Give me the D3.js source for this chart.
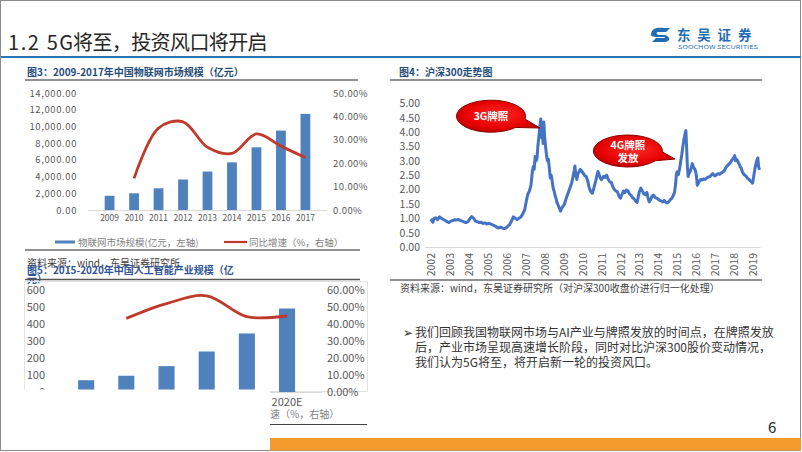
<!DOCTYPE html>
<html><head><meta charset="utf-8">
<script src="https://cdn.jsdelivr.net/npm/d3@7"></script>
<style>
body{margin:0;background:#fff;}
svg{display:block;}
text{font-family:"Noto Sans CJK SC",sans-serif;}
</style></head><body>
<svg id="c" width="802" height="452"></svg>
<script>
// ---------- DATA ----------
const iotYears = ["2009","2010","2011","2012","2013","2014","2015","2016","2017"];
const iotMarket = [1700, 2000, 2600, 3650, 4600, 5700, 7500, 9500, 11500];
const iotGrowth = [null, 13.5, 35, 37.7, 26.8, 24.2, 32.5, 27.3, 22.4];
const iotLeftTicks = [0,2000,4000,6000,8000,10000,12000,14000];
const iotRightTicks = [0,10,20,30,40,50];

const aiYears = ["2015","2016","2017","2018","2019E","2020E"];
const aiMarket = [69.3, 95.6, 152.1, 238.2, 344.3, 491.2];
const aiGrowth = [null, 43.3, 52, 56.6, 44.3, 44.7];
const aiLeftTicks = [0,100,200,300,400,500,600];
const aiRightTicks = [0,10,20,30,40,50,60];

const hsYears = d3.range(2002, 2020);
const hsTicks = [0,0.5,1,1.5,2,2.5,3,3.5,4,4.5,5];
const hs300 = [
[2002.00,0.88],[2002.05,0.95],[2002.10,0.86],[2002.15,0.98],[2002.25,1.02],[2002.35,0.95],[2002.45,1.05],[2002.55,1.00],[2002.65,0.96],[2002.75,0.92],[2002.85,0.88],[2002.95,0.85],
[2003.05,0.90],[2003.15,0.92],[2003.25,0.95],[2003.35,0.94],[2003.45,0.96],[2003.55,0.92],[2003.65,0.90],[2003.75,0.87],[2003.85,0.85],[2003.95,0.88],
[2004.05,0.98],[2004.15,1.06],[2004.25,1.00],[2004.35,0.90],[2004.45,0.88],[2004.55,0.85],[2004.65,0.86],[2004.75,0.82],[2004.85,0.84],[2004.95,0.80],
[2005.05,0.82],[2005.15,0.80],[2005.25,0.77],[2005.35,0.74],[2005.45,0.70],[2005.55,0.66],[2005.65,0.69],[2005.75,0.67],[2005.85,0.64],[2005.95,0.66],
[2006.05,0.72],[2006.15,0.78],[2006.25,0.90],[2006.35,1.05],[2006.45,1.00],[2006.55,0.96],[2006.65,1.00],[2006.75,1.05],[2006.85,1.15],[2006.95,1.30],
[2007.05,1.65],[2007.12,1.85],[2007.20,1.95],[2007.28,2.15],[2007.35,2.60],[2007.40,2.80],[2007.45,2.70],[2007.50,3.15],[2007.55,3.00],[2007.60,3.10],[2007.65,3.55],[2007.70,3.85],[2007.75,4.20],[2007.80,4.45],[2007.84,3.80],[2007.88,3.95],[2007.92,3.60],[2007.96,4.35],[2008.00,3.85],[2008.05,3.50],[2008.10,3.20],[2008.15,3.00],[2008.20,3.05],[2008.25,2.75],[2008.30,2.40],[2008.35,2.50],[2008.40,2.30],[2008.45,2.05],[2008.50,1.95],[2008.55,1.80],[2008.60,1.70],[2008.65,1.55],[2008.72,1.45],[2008.78,1.35],[2008.84,1.25],[2008.90,1.35],[2008.96,1.40],
[2009.05,1.50],[2009.12,1.65],[2009.20,1.80],[2009.28,1.95],[2009.36,2.10],[2009.44,2.25],[2009.50,2.45],[2009.56,2.65],[2009.60,2.82],[2009.65,2.50],[2009.70,2.35],[2009.76,2.55],[2009.82,2.62],[2009.88,2.70],[2009.94,2.66],
[2010.00,2.60],[2010.06,2.55],[2010.12,2.48],[2010.20,2.45],[2010.28,2.30],[2010.34,2.10],[2010.40,1.98],[2010.46,1.90],[2010.52,1.87],[2010.58,2.00],[2010.64,2.15],[2010.70,2.30],[2010.76,2.48],[2010.82,2.63],[2010.88,2.52],[2010.94,2.40],
[2011.00,2.34],[2011.06,2.40],[2011.12,2.46],[2011.20,2.42],[2011.28,2.50],[2011.36,2.35],[2011.44,2.27],[2011.52,2.25],[2011.60,2.10],[2011.68,2.00],[2011.76,1.95],[2011.84,1.92],[2011.92,1.78],
[2012.00,1.70],[2012.08,1.82],[2012.16,1.95],[2012.24,1.90],[2012.32,1.98],[2012.40,1.95],[2012.48,1.85],[2012.56,1.80],[2012.64,1.72],[2012.72,1.68],[2012.80,1.60],[2012.88,1.55],[2012.94,1.72],
[2013.00,1.92],[2013.08,2.05],[2013.16,1.95],[2013.24,1.85],[2013.32,1.82],[2013.40,1.90],[2013.46,1.72],[2013.52,1.57],[2013.60,1.65],[2013.68,1.78],[2013.76,1.80],[2013.84,1.72],[2013.92,1.70],
[2014.00,1.66],[2014.08,1.62],[2014.16,1.60],[2014.24,1.57],[2014.32,1.62],[2014.40,1.55],[2014.48,1.53],[2014.56,1.58],[2014.64,1.65],[2014.72,1.70],[2014.80,1.80],[2014.86,1.90],[2014.92,2.20],[2014.96,2.55],
[2015.00,2.62],[2015.06,2.52],[2015.12,2.70],[2015.18,2.95],[2015.24,3.20],[2015.30,3.50],[2015.36,3.75],[2015.42,3.95],[2015.46,4.05],[2015.50,3.45],[2015.54,2.80],[2015.58,2.45],[2015.62,2.55],[2015.68,2.62],[2015.74,2.75],[2015.80,2.90],[2015.86,2.78],[2015.92,2.72],[2015.97,2.65],
[2016.02,2.45],[2016.06,2.15],[2016.12,2.22],[2016.18,2.30],[2016.24,2.35],[2016.32,2.33],[2016.40,2.37],[2016.48,2.35],[2016.56,2.40],[2016.64,2.43],[2016.72,2.45],[2016.80,2.50],[2016.88,2.55],[2016.94,2.50],
[2017.00,2.47],[2017.08,2.52],[2017.16,2.55],[2017.24,2.53],[2017.32,2.58],[2017.40,2.60],[2017.48,2.65],[2017.56,2.75],[2017.64,2.82],[2017.72,2.88],[2017.80,2.92],[2017.88,3.02],[2017.96,3.08],
[2018.04,3.18],[2018.08,3.00],[2018.14,3.05],[2018.20,2.98],[2018.26,2.90],[2018.32,2.80],[2018.38,2.75],[2018.44,2.62],[2018.50,2.55],[2018.56,2.50],[2018.62,2.48],[2018.68,2.42],[2018.74,2.38],[2018.80,2.35],[2018.86,2.30],[2018.92,2.27],[2018.98,2.22],
[2019.04,2.45],[2019.10,2.70],[2019.16,2.90],[2019.22,3.05],[2019.26,3.10],[2019.30,2.80],[2019.35,2.68]
];
const callouts = [
  {lines:["3G牌照"], cx:2005.17, cy:4.55, tx:2007.76, ty:4.14},
  {lines:["4G牌照","发放"], cx:2012.4, cy:3.34, tx:2014.88, ty:3.06}
];

// ---------- DRAW ----------
const svg = d3.select("#c");
const defs = svg.append("defs");
const rg = defs.append("radialGradient").attr("id","redGrad").attr("cx","50%").attr("cy","45%").attr("r","60%");
rg.append("stop").attr("offset","0%").attr("stop-color","#ff2a2a");
rg.append("stop").attr("offset","70%").attr("stop-color","#e60000");
rg.append("stop").attr("offset","100%").attr("stop-color","#b30000");

svg.append("rect").attr("x",0.5).attr("y",0.5).attr("width",800).attr("height",450)
  .attr("fill","#fff").attr("stroke","#8c8c8c");

// title
svg.append("text").attr("x",8).attr("y",50).attr("font-size",20).attr("fill","#262626")
  .attr("letter-spacing",1.6).text("1.2 5G");
svg.append("text").attr("x",73).attr("y",50).attr("font-size",20).attr("fill","#262626")
  .attr("letter-spacing",-0.6).text("将至，投资风口将开启");
svg.append("line").attr("x1",1).attr("x2",801).attr("y1",57).attr("y2",57)
  .attr("stroke","#2E75B6").attr("stroke-width",2.2);

// logo
const logo = svg.append("g");
logo.append("path").attr("d","M651,35 C651,28 658,27 664,28 L670,28 L666,32 L660,32 C656,32 655,34 659,35 L664,35 C671,36 671,42 664,42 L652,42 L656,38 L663,38 C666,38 666,37 663,37 L658,37 C653,37 651,36 651,35 Z")
  .attr("fill","#1F6DB5");
logo.append("text").attr("x",677).attr("y",39.5).attr("font-size",13.5).attr("font-weight","bold")
  .attr("fill","#1F6DB5").attr("letter-spacing",6.8).text("东吴证券");
logo.append("text").attr("x",678).attr("y",48.5).attr("font-size",5).attr("fill","#1F6DB5")
  .attr("font-family","Liberation Sans, Arial").attr("textLength",80).attr("lengthAdjust","spacingAndGlyphs")
  .text("SOOCHOW SECURITIES");

// ---- Chart 1: IoT market ----
const c1 = svg.append("g");
c1.append("text").attr("x",27).attr("y",75.5).attr("font-size",10).attr("font-weight","bold")
  .attr("fill","#1F4E79").text("图3：2009-2017年中国物联网市场规模（亿元）");
c1.append("line").attr("x1",25).attr("x2",358).attr("y1",80).attr("y2",80).attr("stroke","#222").attr("stroke-width",1.2);

const x1 = d3.scaleBand().domain(iotYears).range([90,325]).padding(0.6);
const y1L = d3.scaleLinear().domain([0,14000]).range([210,93]);
const y1R = d3.scaleLinear().domain([0,50]).range([210,93]);

c1.append("line").attr("x1",88).attr("x2",327).attr("y1",210.5).attr("y2",210.5).attr("stroke","#d9d9d9");
c1.selectAll("rect.b").data(iotMarket).join("rect").attr("class","b")
  .attr("x",(d,i)=>x1(iotYears[i])).attr("y",d=>y1L(d))
  .attr("width",x1.bandwidth()).attr("height",d=>y1L(0)-y1L(d)).attr("fill","#4F81BD");
const line1 = d3.line().defined(d=>d.g!=null)
  .x(d=>x1(d.y)+x1.bandwidth()/2).y(d=>y1R(d.g)).curve(d3.curveCatmullRom.alpha(0.5));
c1.append("path").datum(iotYears.map((y,i)=>({y, g:iotGrowth[i]})).filter(d=>d.g!=null))
  .attr("d",line1).attr("fill","none").attr("stroke","#C0392B").attr("stroke-width",2.8);

const serif = "Liberation Serif, DejaVu Serif, serif";
const ax1L = c1.append("g").attr("transform","translate(80,0)")
  .call(d3.axisLeft(y1L).tickValues(iotLeftTicks).tickSize(0).tickPadding(3).tickFormat(d3.format(",.2f")));
const ax1R = c1.append("g").attr("transform","translate(330,0)")
  .call(d3.axisRight(y1R).tickValues(iotRightTicks).tickSize(0).tickPadding(3).tickFormat(d=>d3.format(".2f")(d)+"%"));
const ax1B = c1.append("g").attr("transform","translate(0,212)")
  .call(d3.axisBottom(x1).tickSize(0).tickPadding(3));
[ax1L,ax1R,ax1B].forEach(a=>{a.select(".domain").remove();
  a.selectAll("text").attr("font-family",serif).attr("font-size",9.5).attr("fill","#595959");});
ax1L.selectAll("text").attr("letter-spacing",0.6);
ax1R.selectAll("text").attr("letter-spacing",0.4);
ax1B.selectAll("text").attr("font-size",8.5);

// legend 1
c1.append("rect").attr("x",55).attr("y",240.5).attr("width",20).attr("height",3).attr("fill","#4F81BD");
c1.append("text").attr("x",78).attr("y",245.5).attr("font-size",9.5).attr("fill","#7f7f7f").text("物联网市场规模(亿元，左轴)");
c1.append("line").attr("x1",224).attr("x2",247).attr("y1",242).attr("y2",242).attr("stroke","#C0392B").attr("stroke-width",2.2);
c1.append("text").attr("x",249).attr("y",245.5).attr("font-size",9.5).attr("fill","#7f7f7f").text("同比增速（%，右轴）");
c1.append("line").attr("x1",25).attr("x2",360).attr("y1",250).attr("y2",250).attr("stroke","#222").attr("stroke-width",1.2);

// ---- Chart 2: AI industry ----
const c2 = svg.append("g");
c2.append("text").attr("x",27).attr("y",266.5).attr("font-size",10).attr("fill","#404040").text("资料来源：wind，东吴证券研究所");
c2.append("text").attr("x",27).attr("y",274).attr("font-size",10).attr("font-weight","bold").attr("fill","#2F5597").text("图5：2015-2020年中国人工智能产业规模（亿");
c2.append("text").attr("x",27).attr("y",283).attr("font-size",10).attr("font-weight","bold").attr("fill","#2F5597").text("元）");
c2.append("line").attr("x1",25).attr("x2",360).attr("y1",279.5).attr("y2",279.5).attr("stroke","#555").attr("stroke-width",1.5);
c2.append("rect").attr("x",24.5).attr("y",281.5).attr("width",343).attr("height",110).attr("fill","none").attr("stroke","#e3e3e3");

const x2 = d3.scaleBand().domain(aiYears).range([54,319.2]).padding(0.6);
const y2L = d3.scaleLinear().domain([0,600]).range([392,290]);
const y2R = d3.scaleLinear().domain([0,60]).range([392,290]);
c2.append("line").attr("x1",52).attr("x2",322).attr("y1",392.5).attr("y2",392.5).attr("stroke","#d9d9d9");
c2.selectAll("rect.b").data(aiMarket).join("rect").attr("class","b")
  .attr("x",(d,i)=>x2(aiYears[i])).attr("y",d=>y2L(d))
  .attr("width",x2.bandwidth()).attr("height",d=>y2L(0)-y2L(d)).attr("fill","#4F81BD");
const line2 = d3.line().x(d=>x2(d.y)+x2.bandwidth()/2).y(d=>y2R(d.g)).curve(d3.curveCatmullRom.alpha(0.5));
c2.append("path").datum(aiYears.map((y,i)=>({y, g:aiGrowth[i]})).filter(d=>d.g!=null))
  .attr("d",line2).attr("fill","none").attr("stroke","#C0392B").attr("stroke-width",2.8);
const sans = "Liberation Sans, Arial, sans-serif";
const ax2L = c2.append("g").attr("transform","translate(48,0)")
  .call(d3.axisLeft(y2L).tickValues(aiLeftTicks).tickSize(0).tickPadding(3));
const ax2R = c2.append("g").attr("transform","translate(324,0)")
  .call(d3.axisRight(y2R).tickValues(aiRightTicks).tickSize(0).tickPadding(3).tickFormat(d=>d3.format(".2f")(d)+"%"));
const ax2B = c2.append("g").attr("transform","translate(0,395)")
  .call(d3.axisBottom(x2).tickSize(0).tickPadding(3));
[ax2L,ax2R,ax2B].forEach(a=>{a.select(".domain").remove();
  a.selectAll("text").attr("font-family",sans).attr("font-size",11).attr("fill","#595959");});
c2.append("text").attr("x",240).attr("y",418).attr("font-size",10).attr("fill","#7f7f7f").text("同比增速（%，右轴）");
// cropped-away lower part of the pasted chart
c2.append("rect").attr("x",1).attr("y",389.5).attr("width",269).attr("height",48).attr("fill","#fff");
c2.append("line").attr("x1",270).attr("x2",367).attr("y1",424.5).attr("y2",424.5).attr("stroke","#444").attr("stroke-width",1.2);

// ---- Chart 4: HS300 ----
const c4 = svg.append("g");
c4.append("text").attr("x",399).attr("y",76).attr("font-size",10).attr("font-weight","bold")
  .attr("fill","#1F4E79").text("图4：沪深300走势图");
c4.append("line").attr("x1",390).attr("x2",762).attr("y1",80).attr("y2",80).attr("stroke","#222").attr("stroke-width",1.2);

const x4 = d3.scaleLinear().domain([2001.7,2019.4]).range([425.3,760.5]);
const y4 = d3.scaleLinear().domain([0,5]).range([247,103.3]);
c4.append("line").attr("x1",x4(2001.7)).attr("x2",x4(2019.4)).attr("y1",247.5).attr("y2",247.5).attr("stroke","#d9d9d9");
c4.append("path").datum(hs300).attr("d",d3.line().x(d=>x4(d[0])).y(d=>y4(d[1])))
  .attr("fill","none").attr("stroke","#4472C4").attr("stroke-width",3).attr("stroke-linejoin","round");
const ax4L = c4.append("g").attr("transform","translate(423,0)")
  .call(d3.axisLeft(y4).tickValues(hsTicks).tickSize(0).tickPadding(3).tickFormat(d3.format(".2f")));
const ax4B = c4.append("g").attr("transform","translate(0,247)")
  .call(d3.axisBottom(x4).tickValues(hsYears).tickSize(0).tickFormat(d3.format("d")));
[ax4L,ax4B].forEach(a=>{a.select(".domain").remove();
  a.selectAll("text").attr("font-family",sans).attr("font-size",10.5).attr("fill","#595959");});
ax4B.selectAll("text").attr("transform","rotate(-90)").attr("text-anchor","end")
  .attr("x",-6).attr("y",0).attr("dy","0.35em");

// callouts
callouts.forEach(c=>{
  const cx=x4(c.cx), cy=y4(c.cy), tx=x4(c.tx), ty=y4(c.ty), rx=34.5, ry=16;
  const phi=Math.atan2((ty-cy)/ry,(tx-cx)/rx);
  const a1=phi-0.3, a2=phi+0.3;
  const p1=[cx+rx*Math.cos(a1), cy+ry*Math.sin(a1)], p2=[cx+rx*Math.cos(a2), cy+ry*Math.sin(a2)];
  c4.append("path").attr("d",`M${p1}L${tx},${ty}L${p2}A${rx},${ry} 0 1 1 ${p1}Z`)
    .attr("fill","url(#redGrad)").attr("stroke","#8B0000").attr("stroke-width",1);
  const n=c.lines.length;
  c.lines.forEach((t,i)=>{
    c4.append("text").attr("x",cx).attr("y",cy+4+(i-(n-1)/2)*13).attr("text-anchor","middle")
      .attr("font-size",10.5).attr("font-weight","bold").attr("fill","#fff").text(t);
  });
});

c4.append("line").attr("x1",390).attr("x2",762).attr("y1",280).attr("y2",280).attr("stroke","#222").attr("stroke-width",1.2);
c4.append("text").attr("x",400).attr("y",291.5).attr("font-size",10).attr("fill","#404040")
  .text("资料来源：wind，东吴证券研究所（对沪深300收盘价进行归一化处理）");

// bullet paragraph
const para = ["我们回顾我国物联网市场与AI产业与牌照发放的时间点，在牌照发放",
              "后，产业市场呈现高速增长阶段，同时对比沪深300股价变动情况，",
              "我们认为5G将至，将开启新一轮的投资风口。"];
svg.append("text").attr("x",403).attr("y",337).attr("font-size",12).attr("font-family","DejaVu Sans").attr("fill","#333").text("➢");
para.forEach((t,i)=>svg.append("text").attr("x",415).attr("y",337+i*15).attr("font-size",12).attr("fill","#333").text(t));

// footer
svg.append("rect").attr("x",270).attr("y",438).attr("width",531).attr("height",12.5).attr("fill","#F59B2E");
svg.append("text").attr("x",768).attr("y",433).attr("font-size",15).attr("font-family",sans).attr("fill","#262626").text("6");
</script>
</body></html>
